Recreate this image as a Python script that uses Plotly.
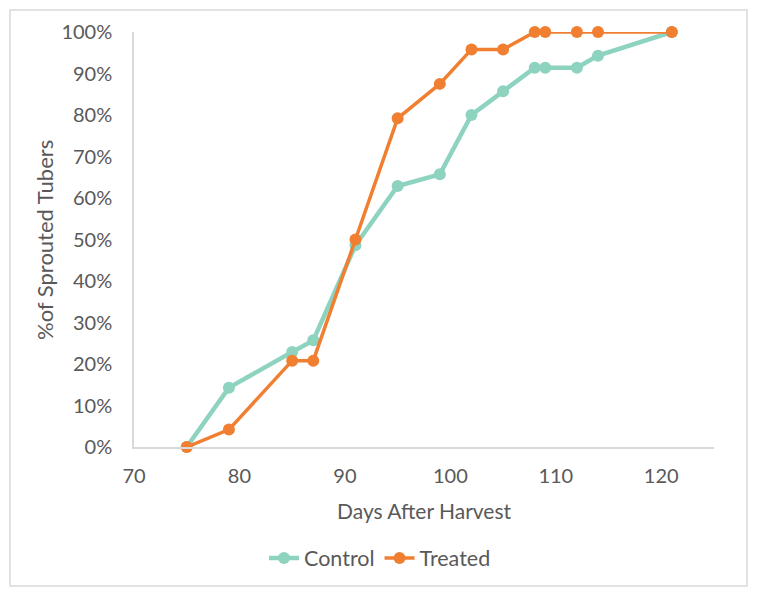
import plotly.graph_objects as go

days = [75, 79, 85, 87, 91, 95, 99, 102, 105, 108, 109, 112, 114, 121]
control = [0, 14.3, 22.9, 25.7, 48.6, 62.9, 65.7, 80.0, 85.7, 91.4, 91.4, 91.4, 94.3, 100]
treated = [0, 4.2, 20.8, 20.8, 50.0, 79.2, 87.5, 95.8, 95.8, 100, 100, 100, 100, 100]
y_ticks = [0, 10, 20, 30, 40, 50, 60, 70, 80, 90, 100]
y_labels = [f"{v}%" for v in y_ticks]
x_ticks = [70, 80, 90, 100, 110, 120]

font_fam = "Lato, Open Sans, sans-serif"
txt = "#595959"
PW, PH = 580, 415  # plot area size in px

fig = go.Figure()
fig.add_trace(go.Scatter(x=days, y=control, name="Control", mode="lines+markers",
                         line=dict(color="#8dd3c0", width=4.5),
                         marker=dict(color="#8dd3c0", size=12)))
fig.add_trace(go.Scatter(x=days, y=treated, name="Treated", mode="lines+markers",
                         line=dict(color="#f07f32", width=3.5),
                         marker=dict(color="#f07f32", size=12)))

fig.update_layout(
    width=757, height=596,
    margin=dict(l=134, r=43, t=32, b=149),
    paper_bgcolor="white", plot_bgcolor="white",
    font=dict(family=font_fam, color=txt, size=20),
    showlegend=True,
    legend=dict(orientation="h", x=(380 - 134) / PW, xanchor="center",
                y=-(558 - 447) / PH, yanchor="middle",
                font=dict(size=21.5, color=txt)),
    xaxis=dict(range=[70, 125], tickvals=x_ticks, showgrid=False, zeroline=False,
               showline=True, linecolor="#d9d9d9", linewidth=1.5, ticks="",
               tickfont=dict(size=20, color=txt), automargin=False, ticklabelstandoff=10),
    yaxis=dict(range=[0, 100], tickvals=y_ticks, ticktext=y_labels, showgrid=False,
               zeroline=False, showline=True, linecolor="#d9d9d9", linewidth=1.5, ticks="",
               tickfont=dict(size=20, color=txt), automargin=False, ticklabelstandoff=16),
    annotations=[
        dict(text="Days After Harvest", xref="paper", yref="paper",
             x=(424 - 134) / PW, y=-(510 - 447) / PH, xanchor="center", yanchor="middle",
             showarrow=False, font=dict(size=21, color=txt)),
        dict(text="%of Sprouted Tubers", xref="paper", yref="paper",
             x=-(134 - 45) / PW, y=(447 - 240) / PH, xanchor="center", yanchor="middle",
             textangle=-90, showarrow=False, font=dict(size=22, color=txt)),
    ],
    shapes=[dict(type="rect", xref="paper", yref="paper", x0=-124 / PW, x1=(747 - 134) / PW,
                 y0=-(586 - 447) / PH, y1=(447 - 10) / PH, line=dict(color="#d9d9d9", width=1.5),
                 fillcolor="rgba(0,0,0,0)", layer="below")],
)
fig.update_traces(cliponaxis=False)
fig.write_html("out.html", config={"displayModeBar": False},
               post_script="document.body.style.margin='0';document.body.style.overflow='hidden';")
